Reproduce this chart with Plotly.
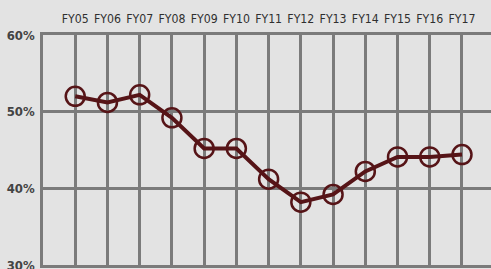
import plotly.graph_objects as go

years = ["FY05", "FY06", "FY07", "FY08", "FY09", "FY10", "FY11", "FY12", "FY13", "FY14", "FY15", "FY16", "FY17"]
values = [52, 51.2, 52.2, 49.2, 45.2, 45.2, 41.2, 38.2, 39.2, 42.2, 44.1, 44.1, 44.4]
y_ticks = [30, 40, 50, 60]
y_tick_labels = ["30%", "40%", "50%", "60%"]

grid = "#7b7b7b"
maroon = "#561417"
font = "DejaVu Sans Condensed, sans-serif"

fig = go.Figure(go.Scatter(
    x=list(range(len(years))), y=values, mode="lines+markers",
    line=dict(color=maroon, width=4),
    marker=dict(symbol="circle-open", size=19, color=maroon, line=dict(width=2.5, color=maroon)),
    cliponaxis=False,
))

fig.update_layout(
    width=491, height=269,
    margin=dict(l=43, r=0, t=35, b=4, autoexpand=False),
    paper_bgcolor="#e3e3e3", plot_bgcolor="#e3e3e3",
    showlegend=False,
    xaxis=dict(
        side="top", range=[-1, 12.9], automargin=False,
        tickvals=list(range(len(years))), ticktext=years, tickangle=0,
        showgrid=True, gridcolor=grid, gridwidth=2.5,
        showline=True, linecolor=grid, linewidth=2.5, mirror=True,
        zeroline=False, ticks="", ticklabelstandoff=4,
        tickfont=dict(family=font, size=12.2, color="#2f2f2f"),
    ),
    yaxis=dict(
        range=[30, 60], tickvals=y_ticks, ticktext=y_tick_labels, automargin=False,
        showgrid=True, gridcolor=grid, gridwidth=2.5,
        showline=True, linecolor=grid, linewidth=2.5,
        zeroline=False, ticks="", ticklabelstandoff=3, ticklabeloverflow="allow",
        tickfont=dict(family=font, size=13, color="#444444", weight="bold"),
    ),
)

fig.write_html("out.html", config={"displayModeBar": False},
               post_script="document.body.style.margin='0';")
